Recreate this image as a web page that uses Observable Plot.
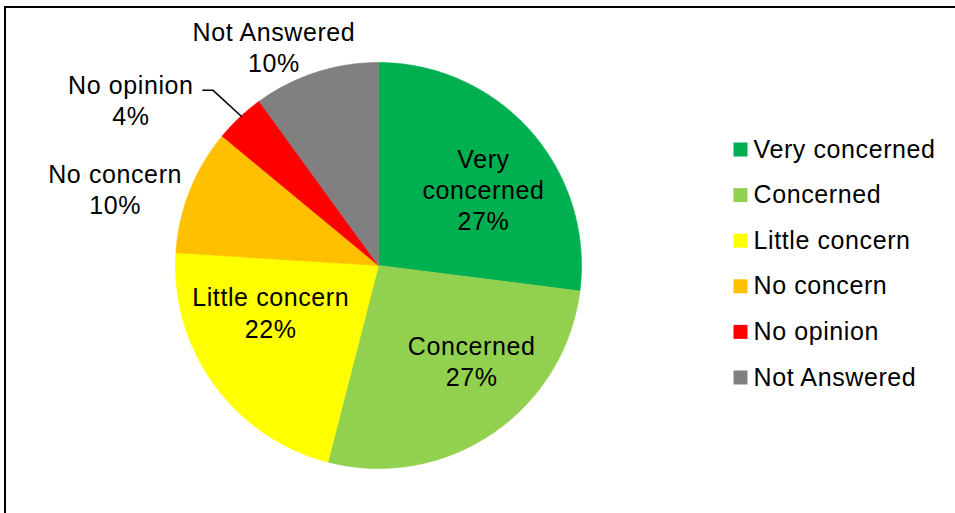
<!DOCTYPE html>
<html>
<head>
<meta charset="utf-8">
<script src="https://cdn.jsdelivr.net/npm/d3@7"></script>
<script src="https://cdn.jsdelivr.net/npm/@observablehq/plot@0.6"></script>
<style>
  html, body { margin: 0; padding: 0; background: #fff; }
  #wrap { position: relative; width: 955px; height: 513px; overflow: hidden; }
  #frame { position: absolute; left: 4px; top: 6px; width: 960px; height: 520px;
           border-left: 2px solid #000; border-top: 2px solid #000; box-sizing: border-box; }
  #chart { position: absolute; left: 0; top: 0; }
  #chart svg text { letter-spacing: 0.6px; }
</style>
</head>
<body>
<div id="wrap"><div id="chart"></div><div id="frame"></div></div>
<script>
// ---- data ----
const categories = ["Very concerned", "Concerned", "Little concern", "No concern", "No opinion", "Not Answered"];
const percents = [27, 27, 22, 10, 4, 10];
const colors = ["#00B050", "#92D050", "#FFFF00", "#FFC000", "#FF0000", "#808080"];

// ---- layout (not data) ----
const W = 955, H = 513;
const cx = 378, cy = 265, R = 203;
const font = "Liberation Sans, Arial, sans-serif";
const fontSize = 25;
// label placement: radius factor along slice mid-angle + nudge (Excel "best fit")
const labelLayout = {
  "Very concerned": {k: 0.65, dx: 6, dy: 11, text: "Very\nconcerned"},
  "Concerned":      {k: 0.65, dx: 19, dy: -14},
  "Little concern": {k: 0.65, dx: -1, dy: -31},
  "No concern":     {k: 1.3, dx: -18, dy: 20},
  "No opinion":     {k: 1.3, dx: -67, dy: 26, leader: true},
  "Not Answered":   {k: 1.3, dx: -23, dy: 32}
};
const legendX = 740, legendY0 = 149, legendStep = 45.6;

// ---- derived geometry ----
const arcs = d3.pie().sort(null).value(d => d)(percents);
const pt = (a, r) => [cx + r * Math.sin(a), cy - r * Math.cos(a)];

const slicePts = [];
arcs.forEach((a, i) => {
  const cat = categories[i];
  slicePts.push({cat, x: cx, y: cy});
  const n = Math.max(2, Math.ceil((a.endAngle - a.startAngle) / (Math.PI / 360)));
  for (let j = 0; j <= n; j++) {
    const t = a.startAngle + (a.endAngle - a.startAngle) * j / n;
    const [x, y] = pt(t, R);
    slicePts.push({cat, x, y});
  }
  slicePts.push({cat, x: cx, y: cy});
});

const labels = arcs.map((a, i) => {
  const cat = categories[i];
  const L = labelLayout[cat];
  const mid = (a.startAngle + a.endAngle) / 2;
  const [x, y] = pt(mid, R * L.k);
  return {cat, x: x + L.dx, y: y + L.dy, text: (L.text || cat) + "\n" + percents[i] + "%"};
});

const leaderPts = [];
arcs.forEach((a, i) => {
  const cat = categories[i];
  if (!labelLayout[cat].leader) return;
  const lab = labels[i];
  const mid = (a.startAngle + a.endAngle) / 2;
  const [ex, ey] = pt(mid, R);
  leaderPts.push({x: lab.x + 72, y: lab.y - 9});
  leaderPts.push({x: lab.x + 82, y: lab.y - 9});
  leaderPts.push({x: ex + 2, y: ey - 1});
});

const legend = categories.map((cat, i) => ({cat, i, y: legendY0 + i * legendStep}));

const chart = Plot.plot({
  width: W, height: H,
  margin: 0,
  x: {domain: [0, W], range: [0, W], axis: null},
  y: {domain: [0, H], range: [0, H], axis: null},
  color: {domain: categories, range: colors},
  style: {fontFamily: font, background: "transparent"},
  marks: [
    Plot.line(slicePts, {x: "x", y: "y", z: "cat", fill: "cat", stroke: "cat", strokeWidth: 0.6, curve: "linear"}),
    Plot.line(leaderPts, {x: "x", y: "y", stroke: "#000", strokeWidth: 1.5}),
    Plot.text(labels, {x: "x", y: "y", text: "text", fontSize, fill: "#000",
      textAnchor: "middle", lineAnchor: "middle", lineHeight: 1.25}),
    Plot.dot(legend, {x: legendX, y: "y", symbol: "square", r: 7.9, fill: "cat", stroke: null}),
    Plot.text(legend, {x: legendX + 13, y: "y", text: "cat", fontSize, fill: "#000",
      textAnchor: "start", lineAnchor: "middle"})
  ]
});
document.getElementById("chart").appendChild(chart);
</script>
</body>
</html>
